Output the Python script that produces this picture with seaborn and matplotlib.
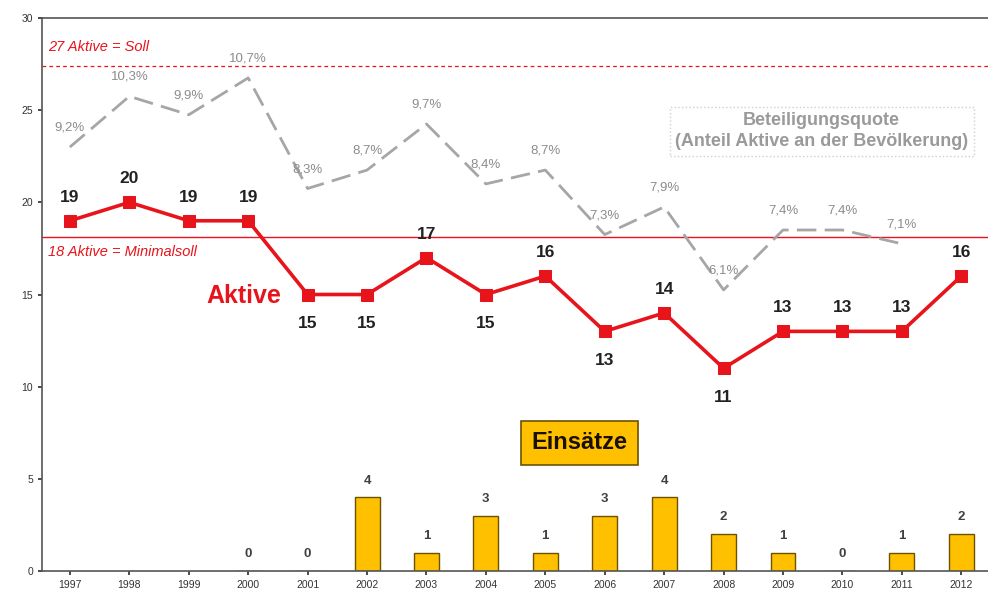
import numpy as np
import pandas as pd
import matplotlib
matplotlib.use("Agg")
import matplotlib.pyplot as plt
import seaborn as sns

years = [str(y) for y in range(1997, 2013)]
aktive = [19, 20, 19, 19, 15, 15, 17, 15, 16, 13, 14, 11, 13, 13, 13, 16]
quote_pct = [9.2, 10.3, 9.9, 10.7, 8.3, 8.7, 9.7, 8.4, 8.7, 7.3, 7.9, 6.1, 7.4, 7.4, 7.1]
einsaetze = [np.nan, np.nan, np.nan, 0, 0, 4, 1, 3, 1, 3, 4, 2, 1, 0, 1, 2]
label_below = [False, False, False, False, True, True, False, True, False, True, False, True, False, False, False, False]
soll = 27.4
minimalsoll = 18.1
quote_scale = 2.5

sns.set_theme(style="white")
plt.rcParams['font.family'] = ['Liberation Sans', 'DejaVu Sans']

fig = plt.figure(figsize=(9.88, 5.94), dpi=100)
ax = fig.add_axes([0.0425, 0.0387, 0.9575, 0.931])

df_bar = pd.DataFrame({"Jahr": years, "Einsätze": einsaetze})
sns.barplot(data=df_bar, x="Jahr", y="Einsätze", order=years, color="#FFC000",
            width=0.42, edgecolor="#6b5200", linewidth=1.0, saturation=1, ax=ax)

xs = np.arange(len(years))
df_q = pd.DataFrame({"x": xs[:len(quote_pct)], "q": np.array(quote_pct) * quote_scale})
sns.lineplot(data=df_q, x="x", y="q", color="#a6a6a6", linewidth=2.0, ax=ax,
             dashes=False, zorder=3)
ax.lines[-1].set_dashes([7, 3])

df_a = pd.DataFrame({"x": xs, "a": aktive})
sns.lineplot(data=df_a, x="x", y="a", color="#e8141c", linewidth=2.6, marker="s",
             markersize=8, markeredgecolor="#e8141c", ax=ax, zorder=5)

ax.axhline(soll, color="#e8141c", linestyle=(0, (3, 2.5)), linewidth=0.9, zorder=2)
ax.axhline(minimalsoll, color="#e8141c", linestyle="-", linewidth=1.0, zorder=2)

ax.text(-0.37, 28.4, "27 Aktive = Soll", color="#e8141c", fontsize=10.5, style="italic",
        va="center")
ax.text(-0.37, 17.3, "18 Aktive = Minimalsoll", color="#e8141c", fontsize=10.5, style="italic",
        va="center")
ax.text(2.3, 14.9, "Aktive", color="#e8141c", fontsize=18, fontweight="bold", va="center")

for i, v in enumerate(aktive):
    if label_below[i]:
        ax.annotate(str(v), (i, v), xytext=(0, -21), textcoords="offset points",
                    ha="center", va="center", fontsize=12.5, fontweight="bold", color="#222222")
    else:
        ax.annotate(str(v), (i, v), xytext=(0, 17), textcoords="offset points",
                    ha="center", va="center", fontsize=12.5, fontweight="bold", color="#222222")

for i, p in enumerate(quote_pct):
    ax.annotate(f"{p:.1f}%".replace(".", ","), (i, p * quote_scale), xytext=(0, 14),
                textcoords="offset points", ha="center", va="center", fontsize=9.5,
                color="#8c8c8c")

for i, e in enumerate(einsaetze):
    if not np.isnan(e):
        ax.annotate(str(int(e)), (i, e), xytext=(0, 12), textcoords="offset points",
                    ha="center", va="center", fontsize=9.5, fontweight="bold", color="#404040")

ax.text(12.65, 23.85, "Beteiligungsquote\n(Anteil Aktive an der Bevölkerung)", ha="center", va="center",
        fontsize=13, fontweight="bold", color="#9a9a9a", linespacing=1.3,
        bbox=dict(boxstyle="square,pad=0.3", facecolor="white", edgecolor="#d0d0d0",
                  linestyle=":", linewidth=1.0))
ax.text(8.57, 6.95, "Einsätze", ha="center", va="center", fontsize=17, fontweight="bold",
        color="#1a1000",
        bbox=dict(boxstyle="square,pad=0.45", facecolor="#FFC000", edgecolor="#6b5200", linewidth=1.2))

ax.set_ylim(0, 30)
ax.set_xlim(-0.47, 15.45)
ax.set_yticks([0, 5, 10, 15, 20, 25, 30])
ax.set_xlabel("")
ax.set_ylabel("")
ax.tick_params(axis="both", labelsize=7.5, colors="#333333", length=3, direction="out",
               left=True, bottom=True)
for s in ["left", "bottom", "top"]:
    ax.spines[s].set_color("#555555")
    ax.spines[s].set_linewidth(1.2)
ax.spines["right"].set_visible(False)

fig.savefig("out.png", dpi=100)
